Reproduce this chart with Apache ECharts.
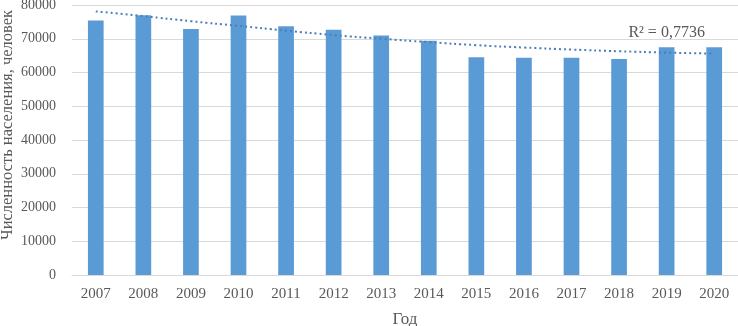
<!DOCTYPE html>
<html>
<head>
<meta charset="utf-8">
<script src="https://cdn.jsdelivr.net/npm/echarts@6/dist/echarts.min.js"></script>
<style>
html,body{margin:0;padding:0;background:#fff;}
#c{width:738px;height:326px;}
</style>
</head>
<body>
<div id="c"></div>
<script>
const years = ['2007','2008','2009','2010','2011','2012','2013','2014','2015','2016','2017','2018','2019','2020'];
const population = [75400, 77000, 72900, 76900, 73700, 72700, 71000, 69400, 64500, 64400, 64400, 64000, 67500, 67500];
const trend = [78100, 76700, 75200, 73800, 72400, 71100, 70000, 69000, 68100, 67400, 66800, 66300, 65900, 65600];
const r2Label = 'R² = 0,7736';
const r2Index = 12;
const yTicks = [0, 10000, 20000, 30000, 40000, 50000, 60000, 70000, 80000];

const font = '"Liberation Serif", "Times New Roman", serif';
const chart = echarts.init(document.getElementById('c'));
chart.setOption({
  animation: false,
  textStyle: { fontFamily: font },
  grid: { left: 72, right: 0, top: 5, bottom: 51, outerBoundsMode: 'none', containLabel: false },
  xAxis: {
    type: 'category',
    data: years,
    name: 'Год',
    nameLocation: 'middle',
    nameGap: 36,
    nameMoveOverlap: false,
    nameTextStyle: { fontFamily: font, fontSize: 17, color: '#595959' },
    axisLine: { lineStyle: { color: '#d9d9d9', width: 1 } },
    axisTick: { show: false },
    axisLabel: { fontFamily: font, fontSize: 15, color: '#595959', margin: 12 }
  },
  yAxis: {
    type: 'value',
    min: yTicks[0],
    max: yTicks[yTicks.length - 1],
    interval: 10000,
    name: 'Численность населения, человек',
    nameLocation: 'middle',
    nameGap: 56,
    nameMoveOverlap: false,
    nameTextStyle: { fontFamily: font, fontSize: 16.5, color: '#595959', padding: [0, 0, 0, 30] },
    axisLine: { show: false },
    axisTick: { show: false },
    splitLine: { lineStyle: { color: '#d9d9d9', width: 1 } },
    axisLabel: { fontFamily: font, fontSize: 14, color: '#595959', margin: 16, formatter: v => String(v) }
  },
  series: [
    {
      type: 'bar',
      data: population,
      barWidth: '33%',
      itemStyle: { color: '#5b9bd5' }
    },
    {
      type: 'line',
      data: trend.map((v, i) => i === r2Index ? {
        value: v,
        label: { show: true, position: 'top', distance: 12, formatter: r2Label,
                 fontFamily: font, fontSize: 16, color: '#595959' }
      } : v),
      smooth: true,
      symbol: 'circle',
      symbolSize: 0,
      showSymbol: true,
      lineStyle: { color: '#4a7ebb', width: 2, type: [2, 3] },
      z: 5
    }
  ]
});
</script>
</body>
</html>
